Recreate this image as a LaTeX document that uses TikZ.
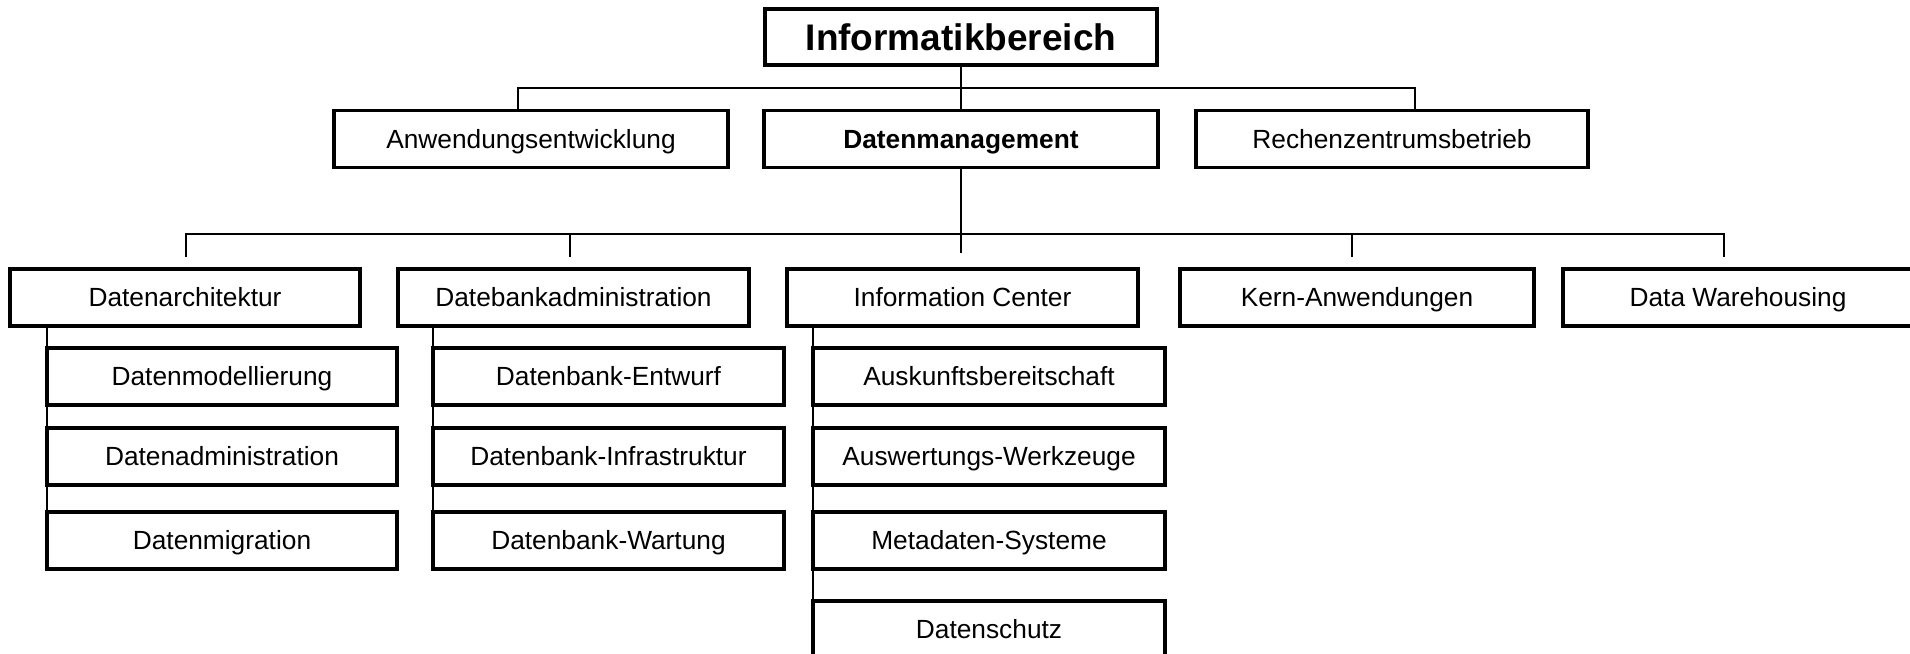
\documentclass[tikz,border=0pt]{standalone}
\usepackage{fontspec}
\setmainfont{Liberation Sans}
\begin{document}
\begin{tikzpicture}[x=1pt, y=-1pt,
  box/.style={draw, line width=3.2pt, inner sep=0pt, outer sep=0pt,
    minimum width=350pt, minimum height=57pt, text height=18.8pt,
    text depth=0pt, font=\fontsize{26.3}{30}\selectfont},
  topbox/.style={box, minimum width=392pt, minimum height=56pt,
    text height=26.5pt, font=\fontsize{37}{42}\selectfont\bfseries},
  link/.style={line width=2.8pt}]
\useasboundingbox (0,0) rectangle (1910,653);
\clip (0,0) rectangle (1910,653);

% top level
\node[topbox] (root) at (961,37) {Informatikbereich};

% second level
\node[box, minimum width=394pt] (anw) at (531,139) {Anwendungsentwicklung};
\node[box, minimum width=394pt, font=\fontsize{26.3}{30}\selectfont\bfseries] (dm) at (961,139) {Datenmanagement};
\node[box, minimum width=392pt] (rz) at (1392,139) {Rechenzentrumsbetrieb};

% third level
\node[box] (arch) at (185,297.5) {Datenarchitektur};
\node[box, minimum width=351pt] (dba) at (573.5,297.5) {Datebankadministration};
\node[box, minimum width=351pt] (ic) at (962.5,297.5) {Information Center};
\node[box, minimum width=354pt] (kern) at (1357,297.5) {Kern-Anwendungen};
\node[box] (dwh) at (1738,297.5) {Data Warehousing};

% sub-units of Datenarchitektur
\node[box] (dmod) at (222,376.5) {Datenmodellierung};
\node[box] (dadm) at (222,456.5) {Datenadministration};
\node[box] (dmig) at (222,540.5) {Datenmigration};

% sub-units of Datebankadministration
\node[box, minimum width=351pt] (dbe) at (608.5,376.5) {Datenbank-Entwurf};
\node[box, minimum width=351pt] (dbi) at (608.5,456.5) {Datenbank-Infrastruktur};
\node[box, minimum width=351pt] (dbw) at (608.5,540.5) {Datenbank-Wartung};

% sub-units of Information Center
\node[box, minimum width=352pt] (ausk) at (989,376.5) {Auskunftsbereitschaft};
\node[box, minimum width=352pt] (ausw) at (989,456.5) {Auswertungs-Werkzeuge};
\node[box, minimum width=352pt] (meta) at (989,540.5) {Metadaten-Systeme};
\node[box, minimum width=352pt] (dsch) at (989,629.5) {Datenschutz};

% connectors: top level to second level
\coordinate (busL) at (518,88);
\coordinate (busR) at (1415,88);
\draw[link] (root.south) -- (dm.north);
\draw[link] (anw.north -| busL) -- (busL) -- (busR) -- (rz.north -| busR);

% connectors: Datenmanagement to third level
\coordinate (dmEnd) at (961,253);
\coordinate (b1) at (186,234);
\coordinate (b2) at (570,234);
\coordinate (b4) at (1352,234);
\coordinate (b5) at (1724,234);
\coordinate (e1) at (186,257);
\coordinate (e2) at (570,257);
\coordinate (e4) at (1352,257);
\coordinate (e5) at (1724,257);
\draw[link] (dm.south) -- (dmEnd);
\draw[link] (e1) -- (b1) -- (b5) -- (e5);
\draw[link] (b2) -- (e2);
\draw[link] (b4) -- (e4);

% connectors: third level to sub-units
\coordinate (icEnd) at (dsch.west |- 0,660);
\draw[link] (dmod.west |- arch.south) -- (dmig.north west);
\draw[link] (dbe.west |- dba.south) -- (dbw.north west);
\draw[link] (ausk.west |- ic.south) -- (icEnd);
\end{tikzpicture}
\end{document}
